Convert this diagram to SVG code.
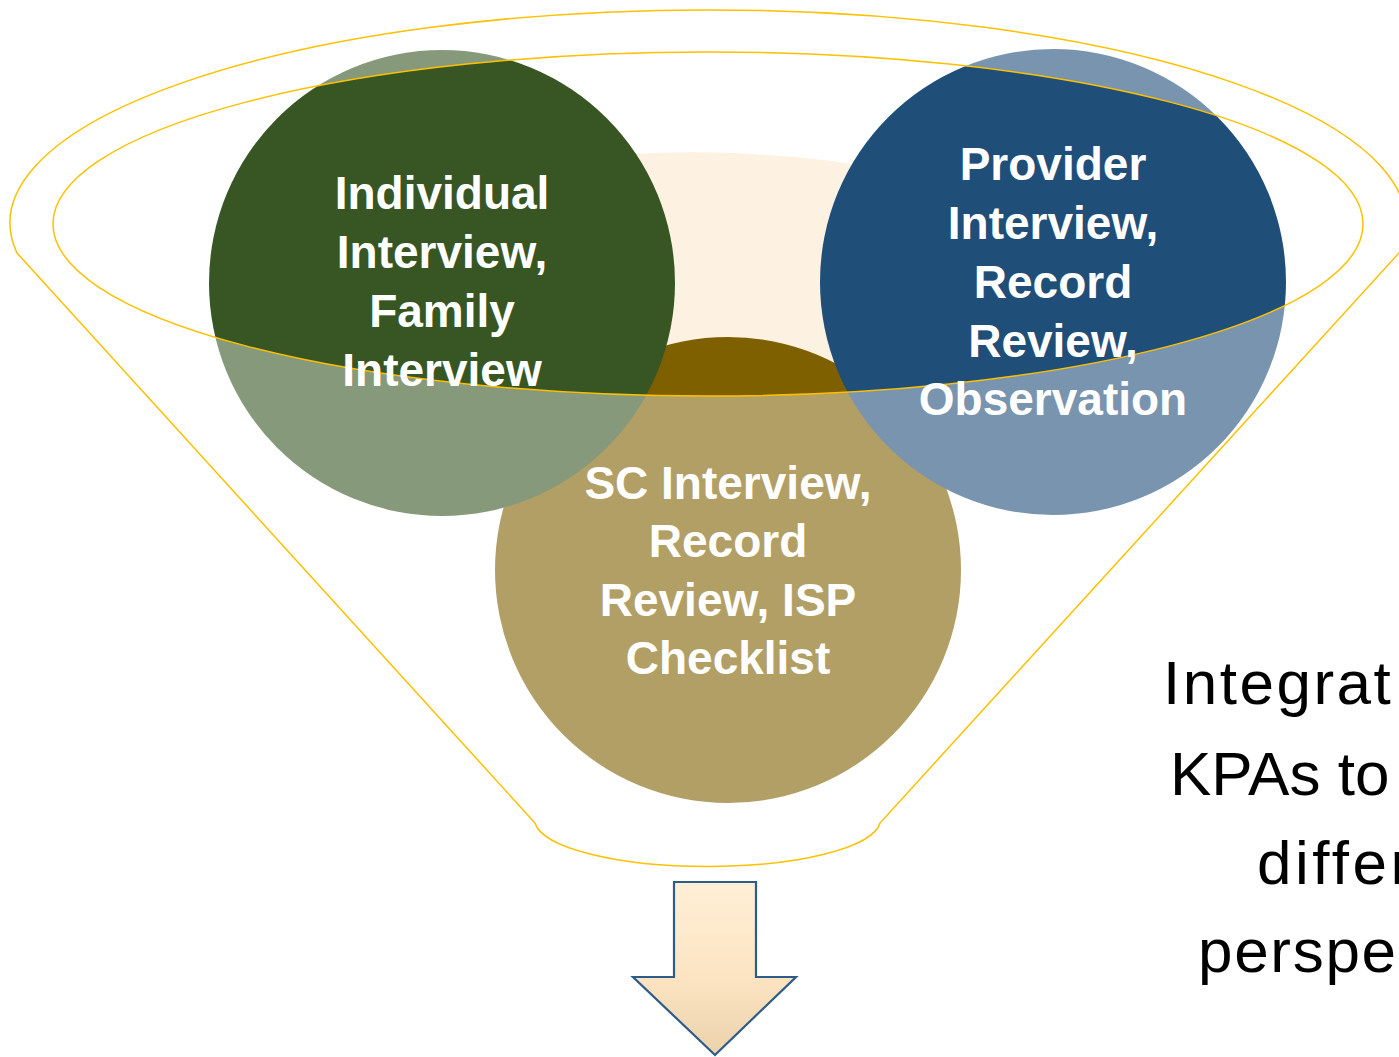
<svg xmlns="http://www.w3.org/2000/svg" width="1399" height="1057" viewBox="0 0 1399 1057">
  <style>
    .ctext { font-family: "Liberation Sans", Arial, sans-serif; font-weight: bold; font-size: 46px; fill: #FFFFFF; text-anchor: middle; }
    .side { font-family: "Liberation Sans", Arial, sans-serif; font-size: 62px; fill: #000000; }
    .rim { fill: none; stroke: #FFC000; stroke-width: 1.5; }
  </style>
  <defs>
    <linearGradient id="arrowFill" x1="0" y1="882" x2="0" y2="1056" gradientUnits="userSpaceOnUse">
      <stop offset="0" stop-color="#FFEFD6"/>
      <stop offset="0.55" stop-color="#FCE4C2"/>
      <stop offset="1" stop-color="#EBD2AC"/>
    </linearGradient>
  </defs>
  <rect x="0" y="0" width="1399" height="1057" fill="#FFFFFF"/>

  <g id="backdrop">
    <path d="M 560 162 Q 705 140 880 168 L 880 420 L 560 420 Z" fill="#FDF1E1"/>
  </g>

  <g id="node-sc">
    <circle cx="728" cy="570" r="233" fill="#7F6000"/>
  </g>
  <g id="node-individual">
    <circle cx="442" cy="283" r="233" fill="#375623"/>
  </g>
  <g id="node-provider">
    <circle cx="1053" cy="282" r="233" fill="#1F4E79"/>
  </g>

  <g id="funnel">
    <path d="M 17 253 A 698 213 0 1 1 1399 253 L 880 823 A 173 47 0 0 1 535 823 Z M 53 224 A 655 172 0 1 0 1363 224 A 655 172 0 1 0 53 224 Z" fill="#FFFFFF" fill-opacity="0.4" fill-rule="evenodd"/>
    <path class="rim" d="M 17 253 A 698 213 0 1 1 1399 253 L 880 823 A 173 47 0 0 1 535 823 Z"/>
    <ellipse class="rim" cx="708" cy="224" rx="655" ry="172"/>
  </g>

  <g id="label-individual">
    <text class="ctext" x="442" y="209">Individual</text>
    <text class="ctext" x="442" y="268">Interview,</text>
    <text class="ctext" x="442" y="327">Family</text>
    <text class="ctext" x="442" y="386">Interview</text>
  </g>
  <g id="label-provider">
    <text class="ctext" x="1053" y="180">Provider</text>
    <text class="ctext" x="1053" y="239">Interview,</text>
    <text class="ctext" x="1053" y="298">Record</text>
    <text class="ctext" x="1053" y="357">Review,</text>
    <text class="ctext" x="1053" y="415">Observation</text>
  </g>
  <g id="label-sc">
    <text class="ctext" x="728" y="499">SC Interview,</text>
    <text class="ctext" x="728" y="557">Record</text>
    <text class="ctext" x="728" y="616">Review, ISP</text>
    <text class="ctext" x="728" y="674">Checklist</text>
  </g>

  <g id="connectors">
    <polygon points="674,882 756,882 756,977 796,977 715,1055 633,977 674,977" fill="url(#arrowFill)" stroke="#2E5B88" stroke-width="2.2" stroke-linejoin="miter"/>
  </g>

  <g id="side-text">
    <text class="side" x="1163" y="704" letter-spacing="2.5">Integrat</text>
    <text class="side" x="1170" y="795">KPAs to</text>
    <text class="side" x="1257" y="884" letter-spacing="3.5">differ</text>
    <text class="side" x="1198" y="972" letter-spacing="1.7">perspe</text>
  </g>
</svg>
